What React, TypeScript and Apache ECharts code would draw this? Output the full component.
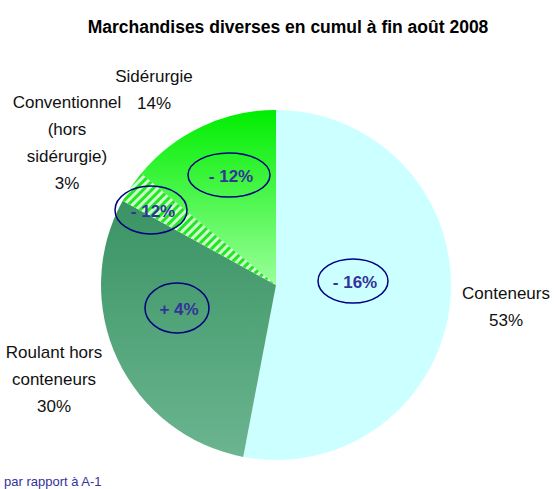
import React, { useEffect, useRef } from "react";
import * as echarts from "echarts";

const categories = ["Conteneurs", "Roulant hors\nconteneurs", "Conventionnel\n(hors\nsidérurgie)", "Sidérurgie"];
const shares = [53, 30, 3, 14];
const variations = ["- 16%", "+ 4%", "- 12%", "- 12%"];
const titleText = "Marchandises diverses en cumul à fin août 2008";
const footnote = "par rapport à A-1";

// layout (not data)
const labelPos = [
  [506, 307],
  [54, 379],
  [67, 143],
  [154, 90],
];
const ellipsePos = [
  [353, 281, 35, 22],
  [177, 308, 32, 25],
  [151, 210, 36, 24],
  [229, 175, 41, 22],
];

export default function App() {
  const ref = useRef<HTMLDivElement>(null);
  useEffect(() => {
    if (!ref.current) return;
    const chart = echarts.init(ref.current, undefined, { renderer: "svg" });
    const fills: any[] = [
      { color: "#ccffff" },
      {
        color: new echarts.graphic.LinearGradient(0, 0, 0, 1, [
          { offset: 0, color: "#3a9363" },
          { offset: 1, color: "#6bb590" },
        ]),
      },
      {
        color: "#ccffcc",
        decal: {
          symbol: "rect",
          symbolSize: 1,
          color: "#22e622",
          dashArrayX: [[1, 0]],
          dashArrayY: [2.5, 2.5],
          rotation: -Math.PI / 4,
        },
      },
      {
        color: new echarts.graphic.LinearGradient(0, 0, 0, 1, [
          { offset: 0, color: "#00ee00" },
          { offset: 1, color: "#9aff9a" },
        ]),
      },
    ];
    const graphics: any[] = [];
    variations.forEach((v, i) => {
      const [cx, cy, rx, ry] = ellipsePos[i];
      graphics.push({
        type: "ellipse",
        shape: { cx, cy, rx, ry },
        style: { fill: "none", stroke: "#000080", lineWidth: 1.5 },
        z: 100,
      });
      graphics.push({
        type: "text",
        x: cx + 2,
        y: cy + 1,
        style: {
          text: v,
          fill: "#333399",
          font: "bold 17px 'Liberation Sans', sans-serif",
          align: "center",
          verticalAlign: "middle",
        },
        z: 101,
      });
    });
    graphics.push({
      type: "text",
      x: 4,
      y: 481,
      style: {
        text: footnote,
        fill: "#333399",
        font: "13px 'Liberation Sans', sans-serif",
        verticalAlign: "middle",
      },
    });
    chart.setOption({
      animation: false,
      backgroundColor: "#ffffff",
      title: {
        text: titleText,
        left: 283,
        textAlign: "center",
        top: 13,
        textStyle: { fontFamily: "'Liberation Sans', sans-serif", fontSize: 17.5, fontWeight: "bold", color: "#000" },
      },
      series: [
        {
          type: "pie",
          center: [276, 285],
          radius: 175,
          startAngle: 90,
          clockwise: true,
          silent: true,
          labelLine: { show: false },
          label: {
            show: true,
            position: "outside",
            overflow: "none",
            formatter: (p: any) => `${p.name}\n${Math.round(p.percent)}%`,
            fontFamily: "'Liberation Sans', sans-serif",
            fontSize: 17,
            lineHeight: 27,
            color: "#111",
            align: "center",
          },
          labelLayout: (p: any) => ({
            x: labelPos[p.dataIndex][0],
            y: labelPos[p.dataIndex][1],
            align: "center",
            verticalAlign: "middle",
          }),
          data: categories.map((c, i) => ({ name: c, value: shares[i], itemStyle: fills[i] })),
        },
      ],
      graphic: graphics,
    });
    return () => chart.dispose();
  }, []);
  return (
    <div
      ref={ref}
      style={{ position: "fixed", left: 0, top: 0, width: 554, height: 489, background: "#fff" }}
    />
  );
}
